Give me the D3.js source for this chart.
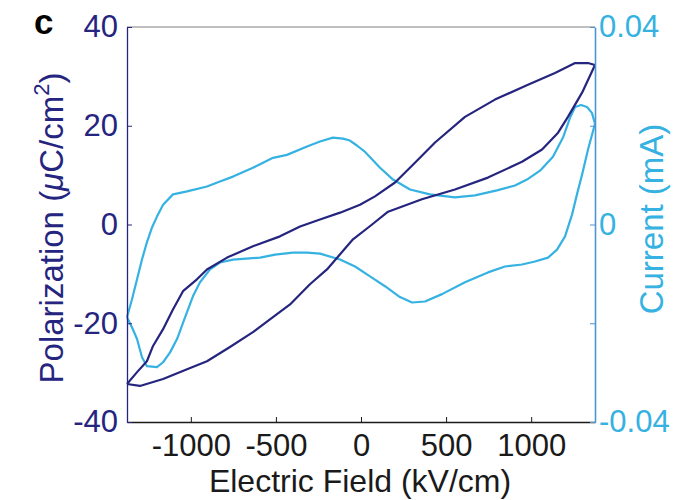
<!DOCTYPE html>
<html>
<head>
<meta charset="utf-8">
<script src="https://cdn.jsdelivr.net/npm/d3@7"></script>
<style>
  body { margin: 0; background: #fff; }
  svg { display: block; font-family: "Liberation Sans", Arial, Helvetica, sans-serif; }
</style>
</head>
<body>
<svg id="chart" width="691" height="500"></svg>
<script>
// Electric field (kV/cm) tick values and axis ranges
const fieldTicks = [-1000, -500, 0, 500, 1000];
const fieldRange = [-1375, 1375];
const polTicks = [-40, -20, 0, 20, 40];
const polRange = [-40, 40];
const curTicks = [-0.04, -0.02, 0, 0.02, 0.04];
const curTickLabels = ["-0.04", "", "0", "", "0.04"];
const curRange = [-0.04, 0.04];

// P–E hysteresis loop: descending-field branch [E, P]
const polDescending = [
  [1375, 32.3], [1334, 32.7], [1258, 32.7], [1140, 30.7], [981, 28.3],
  [787, 25.3], [611, 21.8], [435, 16.6], [317, 12.5], [200, 8.5],
  [82, 5.7], [-6, 4.0], [-123, 2.4], [-241, 1.0], [-358, -0.4],
  [-476, -2.4], [-635, -4.4], [-787, -6.7], [-905, -9.1], [-964, -11.1],
  [-1046, -13.5], [-1105, -17.2], [-1163, -21.2], [-1222, -24.6],
  [-1258, -27.7], [-1316, -29.9], [-1375, -32.3]
];
// P–E hysteresis loop: ascending-field branch [E, P]
const polAscending = [
  [-1375, -32.3], [-1299, -32.7], [-1163, -31.3], [-1022, -29.3],
  [-905, -27.7], [-770, -24.8], [-635, -21.8], [-535, -19.2],
  [-417, -16.2], [-300, -12.1], [-200, -9.1], [-47, -3.0], [65, 0.0],
  [159, 2.6], [358, 5.1], [552, 7.1], [746, 9.5], [946, 12.7],
  [1064, 15.2], [1158, 18.6], [1216, 21.8], [1299, 26.7], [1375, 32.3]
];
// Switching current (mA), ascending-field branch [E, I]
const curAscending = [
  [-1375, -0.0188], [-1346, -0.0152], [-1316, -0.0111], [-1287, -0.0071],
  [-1258, -0.0036], [-1228, -0.0006], [-1199, 0.0016], [-1163, 0.0040],
  [-1105, 0.0061], [-1022, 0.0067], [-905, 0.0077], [-829, 0.0087],
  [-752, 0.0097], [-635, 0.0115], [-517, 0.0135], [-435, 0.0141],
  [-317, 0.0158], [-241, 0.0168], [-165, 0.0176], [-106, 0.0174],
  [-65, 0.0170], [-24, 0.0160], [24, 0.0147], [112, 0.0115],
  [188, 0.0091], [288, 0.0071], [405, 0.0061], [552, 0.0055],
  [670, 0.0059], [799, 0.0069], [905, 0.0079], [975, 0.0091],
  [1052, 0.0109], [1128, 0.0137], [1187, 0.0176], [1228, 0.0216],
  [1258, 0.0238], [1293, 0.0242], [1328, 0.0238], [1357, 0.0226],
  [1375, 0.0204]
];
// Switching current (mA), descending-field branch [E, I]
const curDescending = [
  [1375, 0.0204], [1334, 0.0152], [1299, 0.0101], [1269, 0.0061],
  [1240, 0.0020], [1199, -0.0024], [1152, -0.0051], [1099, -0.0067],
  [1022, -0.0075], [946, -0.0081], [846, -0.0085], [746, -0.0097],
  [611, -0.0117], [476, -0.0141], [376, -0.0156], [300, -0.0158],
  [229, -0.0147], [141, -0.0125], [53, -0.0105], [-35, -0.0085],
  [-123, -0.0071], [-241, -0.0059], [-317, -0.0057], [-400, -0.0057],
  [-505, -0.0061], [-593, -0.0067], [-752, -0.0071], [-829, -0.0077],
  [-887, -0.0091], [-946, -0.0117], [-987, -0.0145], [-1034, -0.0188],
  [-1081, -0.0232], [-1122, -0.0259], [-1163, -0.0279], [-1199, -0.0289],
  [-1258, -0.0287], [-1287, -0.0269], [-1316, -0.0232], [-1346, -0.0208],
  [-1375, -0.0188]
];

const polColor = "#25257f";
const curColor = "#35b2e2";
const curAxisColor = "#4c95d4";

const svg = d3.select("#chart");
const margin = { top: 27, right: 96, bottom: 78, left: 127 };
const W = 691, H = 500;
const x = d3.scaleLinear().domain(fieldRange).range([margin.left, W - margin.right]);
const yP = d3.scaleLinear().domain(polRange).range([H - margin.bottom, margin.top]);
const yI = d3.scaleLinear().domain(curRange).range([H - margin.bottom, margin.top]);

const tickFont = 31;
const titleFont = 32;

// Curves
const lineP = d3.line().x(d => x(d[0])).y(d => yP(d[1]));
const lineI = d3.line().x(d => x(d[0])).y(d => yI(d[1]));

[curAscending, curDescending].forEach(s =>
  svg.append("path").attr("d", lineI(s)).attr("fill", "none")
    .attr("stroke", curColor).attr("stroke-width", 2.2).attr("stroke-linejoin", "round"));
[polDescending, polAscending].forEach(s =>
  svg.append("path").attr("d", lineP(s)).attr("fill", "none")
    .attr("stroke", polColor).attr("stroke-width", 2.2).attr("stroke-linejoin", "round"));

// Top frame line
svg.append("line")
  .attr("x1", x.range()[0]).attr("x2", x.range()[1])
  .attr("y1", margin.top).attr("y2", margin.top)
  .attr("stroke", "#808080").attr("stroke-width", 1.2);

// Bottom axis
const gx = svg.append("g").attr("transform", `translate(0,${H - margin.bottom})`)
  .call(d3.axisBottom(x).tickValues(fieldTicks).tickFormat(d => String(d))
    .tickSizeInner(-5).tickSizeOuter(0).tickPadding(12));
gx.select(".domain").attr("stroke", "#1a1a1a").attr("stroke-width", 1.3);
gx.selectAll(".tick line").attr("stroke", "#1a1a1a");
gx.selectAll("text").attr("font-size", tickFont).attr("fill", "#1a1a1a").attr("font-family", null);

// Left axis (polarization)
const gl = svg.append("g").attr("transform", `translate(${margin.left},0)`)
  .call(d3.axisLeft(yP).tickValues(polTicks).tickFormat(d => String(d))
    .tickSizeInner(-5).tickSizeOuter(0).tickPadding(9));
gl.select(".domain").attr("stroke", polColor).attr("stroke-width", 1.3);
gl.selectAll(".tick line").attr("stroke", polColor);
gl.selectAll("text").attr("font-size", tickFont).attr("fill", polColor).attr("font-family", null);

// Right axis (current)
const gr = svg.append("g").attr("transform", `translate(${W - margin.right},0)`)
  .call(d3.axisRight(yI).tickValues(curTicks).tickFormat((d, i) => curTickLabels[i])
    .tickSizeInner(-5).tickSizeOuter(0).tickPadding(4));
gr.select(".domain").attr("stroke", curAxisColor).attr("stroke-width", 1.6);
gr.selectAll(".tick line").attr("stroke", curAxisColor);
gr.selectAll("text").attr("font-size", tickFont).attr("fill", curColor).attr("font-family", null);

// Axis titles
svg.append("text")
  .attr("x", 360).attr("y", 492)
  .attr("text-anchor", "middle").attr("font-size", titleFont).attr("fill", "#1a1a1a")
  .text("Electric Field (kV/cm)");

const pTitle = svg.append("text")
  .attr("transform", "translate(63,228) rotate(-90)")
  .attr("text-anchor", "middle").attr("font-size", 33).attr("fill", polColor);
pTitle.append("tspan").text("Polarization (");
pTitle.append("tspan").attr("font-style", "italic").text("\u03bc");
pTitle.append("tspan").text("C/cm");
pTitle.append("tspan").attr("font-size", 22).attr("dy", -14).text("2");
pTitle.append("tspan").attr("dy", 14).text(")");

svg.append("text")
  .attr("transform", "translate(663,219) rotate(-90)")
  .attr("text-anchor", "middle").attr("font-size", 33).attr("fill", curColor)
  .text("Current (mA)");

// Panel letter
svg.append("text")
  .attr("x", 34).attr("y", 34)
  .attr("font-size", 35).attr("font-weight", "bold").attr("fill", "#000")
  .text("c");
</script>
</body>
</html>
